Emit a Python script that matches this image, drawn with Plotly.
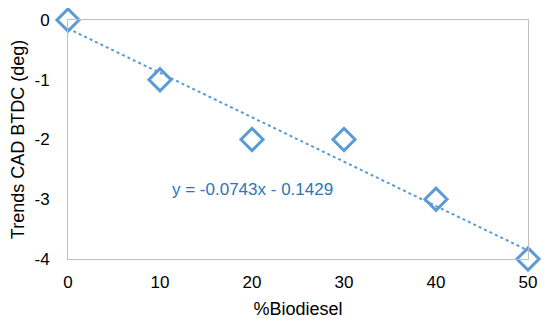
import numpy as np
import plotly.graph_objects as go

biodiesel = [0, 10, 20, 30, 40, 50]
cad_btdc = [0, -1, -2, -2, -3, -4]
x_ticks = [0, 10, 20, 30, 40, 50]
y_ticks = [0, -1, -2, -3, -4]
y_tick_labels = ["0", "-1", "-2", "-3", "-4"]

slope, intercept = np.polyfit(biodiesel, cad_btdc, 1)
trend_x = [min(biodiesel), max(biodiesel)]
trend_y = [slope * v + intercept for v in trend_x]

color = "#5B9BD5"
font = "Liberation Sans, Arial, sans-serif"

fig = go.Figure()
fig.add_trace(go.Scatter(x=trend_x, y=trend_y, mode="lines",
                         line=dict(color=color, width=2, dash="dot"),
                         showlegend=False, hoverinfo="skip"))
fig.add_trace(go.Scatter(x=biodiesel, y=cad_btdc, mode="markers",
                         marker=dict(symbol="diamond-open", size=17, color=color,
                                     line=dict(width=3, color=color)),
                         showlegend=False, cliponaxis=False))

fig.add_annotation(x=20, y=-2.83, xref="x", yref="y",
                   text=f"y = {slope:.4f}x - {abs(intercept):.4f}",
                   showarrow=False, font=dict(family=font, size=17, color="#2E75B6"))

fig.update_layout(
    width=550, height=330,
    margin=dict(l=60, r=30, t=12, b=79),
    paper_bgcolor="white", plot_bgcolor="white",
    font=dict(family=font, size=16, color="#000000"),
    xaxis=dict(range=[0, 50], tickvals=x_ticks, showgrid=False, zeroline=False,
               showline=True, linecolor="#BFBFBF", linewidth=1, mirror=True,
               ticks="", ticklen=0, automargin=False, ticklabelstandoff=8,
               title=dict(text="%Biodiesel", font=dict(size=18), standoff=10),
               tickfont=dict(size=17)),
    yaxis=dict(range=[-4, 0], tickvals=y_ticks, ticktext=y_tick_labels,
               showgrid=False, zeroline=False,
               showline=True, linecolor="#BFBFBF", linewidth=1, mirror=True,
               ticks="", ticklen=0, ticklabelstandoff=14, automargin=False,
               title=dict(text="Trends CAD BTDC (deg)", font=dict(size=18), standoff=8),
               tickfont=dict(size=17)),
)

fig.write_html("out.html")
